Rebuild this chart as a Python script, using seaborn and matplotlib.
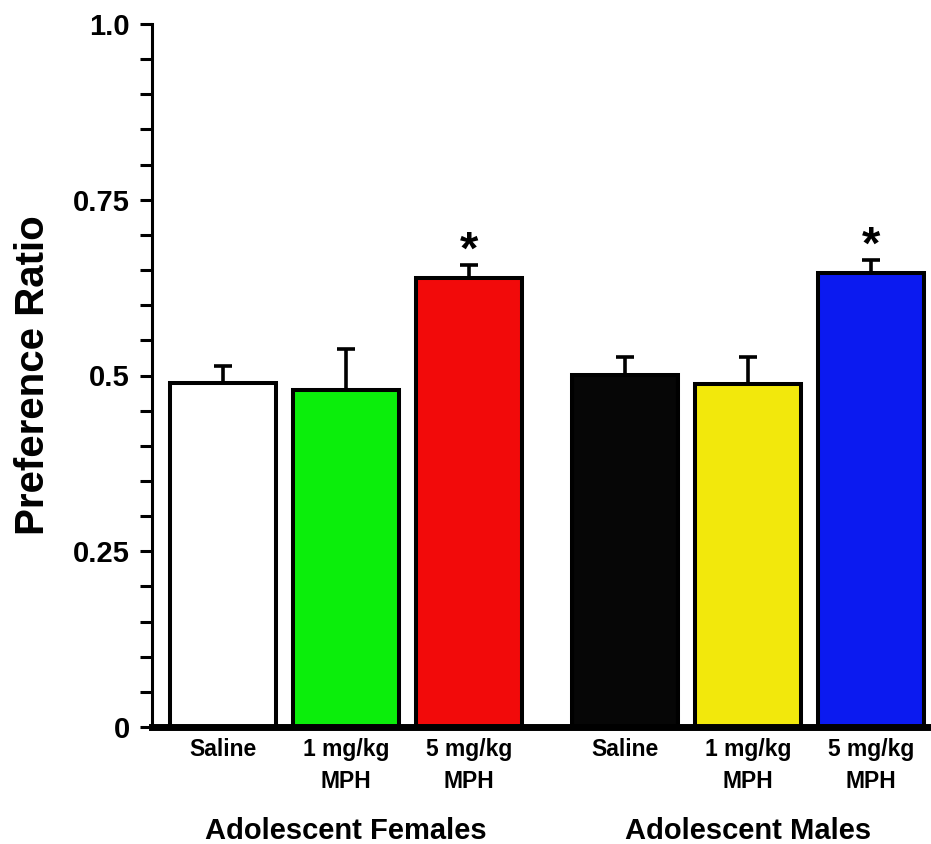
import numpy as np
import pandas as pd
import seaborn as sns
import matplotlib
matplotlib.use('Agg')
import matplotlib.pyplot as plt
from matplotlib.ticker import MultipleLocator

# values
groups = ['Adolescent Females'] * 3 + ['Adolescent Males'] * 3
doses = ['Saline', '1 mg/kg\nMPH', '5 mg/kg\nMPH'] * 2
ratio = [0.489, 0.479, 0.638, 0.501, 0.488, 0.646]
sem = [0.024, 0.059, 0.019, 0.026, 0.039, 0.018]
signif = [False, False, True, False, False, True]
bar_colors = ['#ffffff', '#0bee0b', '#f20a0a', '#060606', '#f2e80c', '#0b1af0']

df = pd.DataFrame({'group': groups, 'dose': doses, 'ratio': ratio})

sns.set_style('ticks')
plt.rcParams['font.family'] = ['Liberation Sans', 'DejaVu Sans']
plt.rcParams['text.color'] = 'black'
plt.rcParams['axes.labelcolor'] = 'black'
plt.rcParams['xtick.color'] = 'black'
plt.rcParams['ytick.color'] = 'black'

fig = plt.figure(figsize=(9.31, 8.44), dpi=100)
ax = fig.add_axes([152 / 931, 117 / 844, 779 / 931, 703 / 844])

sns.barplot(data=df, x='group', y='ratio', hue='dose', width=0.918, gap=0.14,
            errorbar=None, legend=False, edgecolor='black', linewidth=2.9, ax=ax)

# bars sorted left to right, recolour each one
bars = sorted(ax.patches, key=lambda p: p.get_x())
centers = []
for b, c in zip(bars, bar_colors):
    b.set_facecolor(c)
    b.set_zorder(2)
    centers.append(b.get_x() + b.get_width() / 2)
centers = np.array(centers)

ax.errorbar(centers, ratio, yerr=[np.zeros(len(sem)), sem], fmt='none',
            ecolor='black', elinewidth=2.6, capsize=6.5, capthick=2.6, zorder=1)

tops = np.array(ratio) + np.array(sem)
for x, t, s in zip(centers, tops, signif):
    if s:
        ax.text(x, t + 0.002, '*', ha='center', va='baseline', fontsize=34,
                fontweight='bold')

for x, d in zip(centers, doses):
    ax.text(x, -0.015, d, transform=ax.get_xaxis_transform(), ha='center',
            va='top', fontsize=16.5, fontweight='bold', linespacing=1.5)

ax.set_ylim(0, 1.0)
ax.set_xlim(-0.4826, 1.455)
ax.set_yticks([0, 0.25, 0.5, 0.75, 1.0])
ax.set_yticklabels(['0', '0.25', '0.5', '0.75', '1.0'])
ax.yaxis.set_minor_locator(MultipleLocator(0.05))
ax.tick_params(axis='y', which='both', length=9, width=2.2, pad=7,
               labelsize=21)
for lab in ax.get_yticklabels():
    lab.set_fontweight('bold')
ax.tick_params(axis='x', length=0, pad=65, labelsize=21)
for lab in ax.get_xticklabels():
    lab.set_fontweight('bold')

ax.set_xlabel('')
ax.set_ylabel('Preference Ratio', fontsize=29, fontweight='bold')
ax.yaxis.set_label_coords(-0.128, 0.5)

sns.despine(ax=ax)
ax.spines['left'].set_linewidth(2.2)
ax.spines['bottom'].set_linewidth(5)
ax.spines['bottom'].set_zorder(3)
ax.spines['left'].set_color('black')
ax.spines['bottom'].set_color('black')

fig.savefig('out.png', dpi=100)
